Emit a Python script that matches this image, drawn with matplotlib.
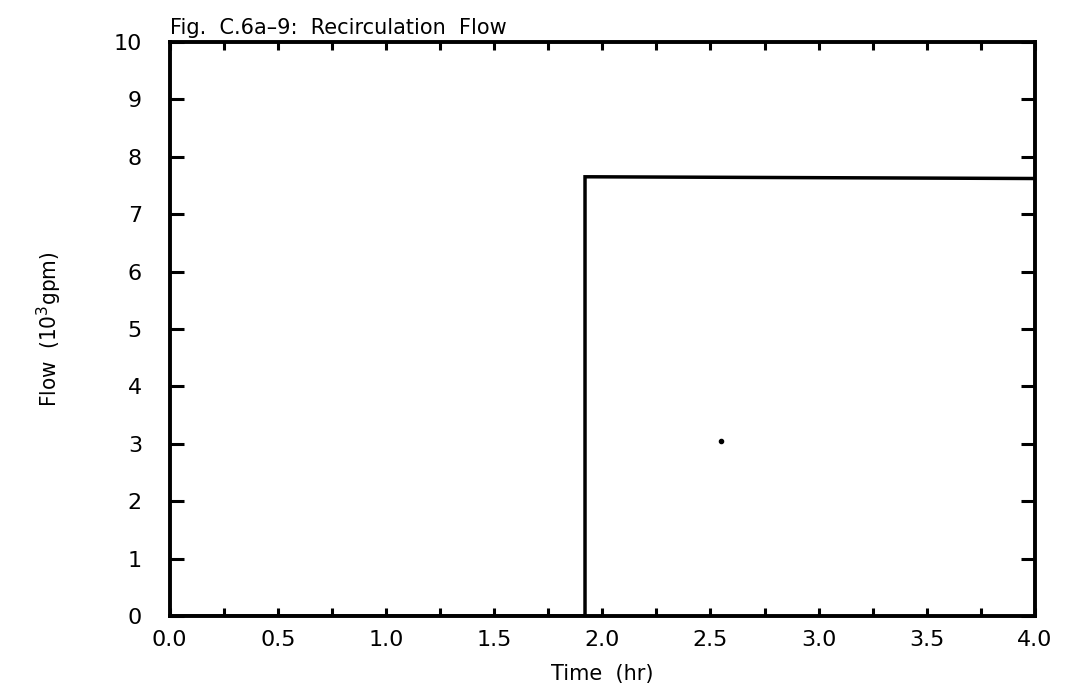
import matplotlib
matplotlib.use("Agg")
import matplotlib.pyplot as plt
from matplotlib.ticker import MultipleLocator

# Data
time_hr = [0.0, 1.92, 1.92, 1.95, 4.0]
flow_kgpm = [0.0, 0.0, 7.65, 7.65, 7.62]
dot_x = [2.55]
dot_y = [3.05]

x_ticks = [0.0, 0.5, 1.0, 1.5, 2.0, 2.5, 3.0, 3.5, 4.0]
x_labels = ["0.0", "0.5", "1.0", "1.5", "2.0", "2.5", "3.0", "3.5", "4.0"]
y_ticks = [0, 1, 2, 3, 4, 5, 6, 7, 8, 9, 10]
y_labels = ["0", "1", "2", "3", "4", "5", "6", "7", "8", "9", "10"]

fig = plt.figure(figsize=(10.67, 6.98), dpi=100)
ax = fig.add_axes([0.159, 0.1175, 0.811, 0.8225])

ax.plot(time_hr, flow_kgpm, color="black", linewidth=2.5, solid_joinstyle="miter")
ax.plot(dot_x, dot_y, marker="o", markersize=3, color="black", linestyle="none")

ax.set_xlim(0, 4)
ax.set_ylim(0, 10)

ax.set_xticks(x_ticks)
ax.set_xticklabels(x_labels)
ax.set_yticks(y_ticks)
ax.set_yticklabels(y_labels)
ax.xaxis.set_minor_locator(MultipleLocator(0.25))

ax.tick_params(axis="both", which="both", direction="in", top=True, right=True,
               width=2.2, color="black")
ax.tick_params(axis="x", which="major", length=6, pad=10, labelsize=16)
ax.tick_params(axis="x", which="minor", length=6)
ax.tick_params(axis="y", which="major", length=10, pad=20, labelsize=16)

for lbl in ax.get_xticklabels() + ax.get_yticklabels():
    lbl.set_fontfamily("DejaVu Sans")

for s in ax.spines.values():
    s.set_linewidth(2.8)
    s.set_color("black")

ax.set_xlabel("Time  (hr)", fontsize=15, labelpad=10, fontfamily="DejaVu Sans")
ax.set_ylabel("Flow  (10$^3$gpm)", fontsize=16, labelpad=36,
              fontfamily="DejaVu Sans", fontstretch="condensed")

ax.text(0.0, 1.006, "Fig.  C.6a\u20139:  Recirculation  Flow", transform=ax.transAxes,
        fontsize=15, ha="left", va="bottom", fontfamily="DejaVu Sans")

fig.savefig("out.png", dpi=100, facecolor="white")
